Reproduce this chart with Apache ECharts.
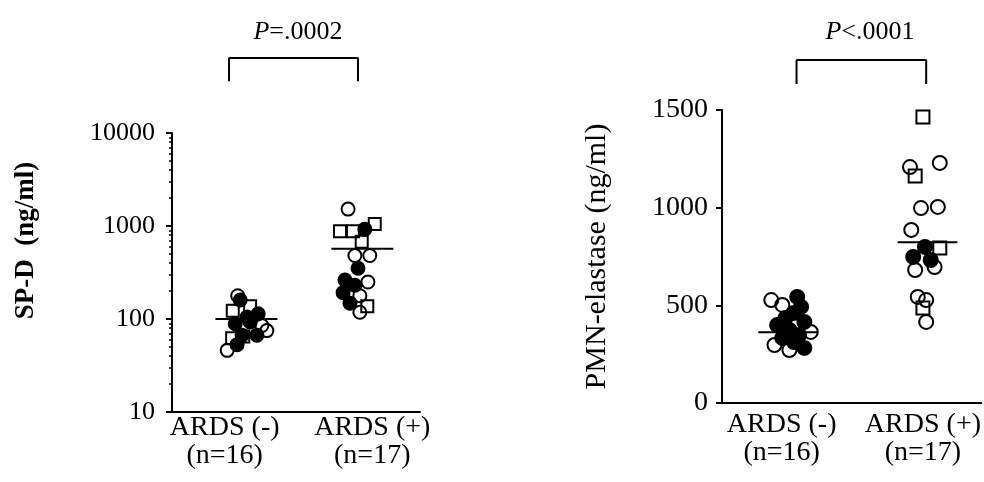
<!DOCTYPE html>
<html>
<head>
<meta charset="utf-8">
<script src="https://cdn.jsdelivr.net/npm/echarts@6/dist/echarts.min.js"></script>
<style>
  html, body { margin: 0; padding: 0; background: #fff; }
  #main { width: 984px; height: 482px; }
</style>
</head>
<body>
<div id="main"></div>
<script>
// categories and p values
const groupNames = ['ARDS (-)', 'ARDS (+)'];
const groupCounts = ['(n=16)', '(n=17)'];
const pTexts = ['=.0002', '<.0001'];

// SP-D (ng/ml), [jitter x, value]
const spdNegOpenCircles = [[1.06, 178], [0.89, 46], [1.45, 85], [1.53, 75]];
const spdNegOpenSquares = [[0.98, 123], [1.26, 137], [1.15, 65], [0.97, 62]];
const spdNegFilled = [[1.21, 105], [1.39, 114], [1.02, 89], [1.13, 67], [1.05, 53], [1.26, 93], [1.10, 160], [1.37, 67]];
const spdPosOpenCircles = [[2.84, 1520], [2.95, 481], [3.19, 481], [3.16, 250], [3.03, 178], [3.03, 118]];
const spdPosOpenSquares = [[2.71, 877], [2.92, 880], [3.27, 1050], [3.06, 675], [3.15, 137]];
const spdPosFilled = [[3.11, 925], [3.00, 351], [2.79, 263], [2.95, 231], [2.76, 192], [2.87, 148]];
const spdMeans = [100, 570];
const spdTicks = [10, 100, 1000, 10000];

// PMN-elastase (ng/ml), [jitter x, value]
const elaNegOpenCircles = [[0.76, 527], [0.93, 502], [1.37, 364], [1.04, 271], [0.81, 297]];
const elaNegFilled = [[1.16, 543], [1.22, 492], [1.11, 461], [1.27, 415], [0.98, 435], [0.85, 399], [1.04, 374], [1.19, 348], [0.93, 333], [1.11, 312], [1.27, 282]];
const elaPosOpenCircles = [[2.90, 1208], [3.36, 1229], [3.07, 998], [3.33, 1004], [2.92, 886], [2.98, 681], [3.28, 696], [3.02, 543], [3.15, 527], [3.15, 415]];
const elaPosOpenSquares = [[3.10, 1464], [2.98, 1162], [3.36, 794], [3.10, 486]];
const elaPosFilled = [[3.13, 799], [3.22, 732], [2.95, 748]];
const elaMeans = [362, 823];

// where things sit along the x value axes
const spdCenters = [1.2, 3.07];
const elaCenters = [1.02, 3.17];
const spdLabelX = [0.85, 3.23];
const elaLabelX = [0.92, 3.10];
const spdBracket = { x: [0.92, 3.0], top: 64000, foot: 36000 };
const elaBracket = { x: [1.15, 3.15], top: 1756, foot: 1633 };

const FONT = "'Liberation Serif', 'DejaVu Serif', serif";

let scatter = (data, idx, symbol, filled, size) => ({
  type: 'scatter',
  xAxisIndex: idx,
  yAxisIndex: idx,
  data: data,
  symbol: symbol,
  symbolSize: size,
  silent: true,
  itemStyle: {
    color: filled ? '#000' : 'rgba(0,0,0,0)',
    borderColor: '#000',
    borderWidth: 2,
    opacity: 1,
  },
});

let line = (data, idx) => ({
  type: 'line',
  xAxisIndex: idx,
  yAxisIndex: idx,
  data: data,
  symbol: 'none',
  clip: false,
  silent: true,
  lineStyle: { color: '#000', width: 2 },
});

let meanLines = (centers, means, half, idx) =>
  centers.map((c, i) => line([[c - half, means[i]], [c + half, means[i]]], idx));

let bracket = (b, idx) =>
  line([[b.x[0], b.foot], [b.x[0], b.top], [b.x[1], b.top], [b.x[1], b.foot]], idx);

let xLabels = (positions) => ({
  customValues: positions,
  interval: 0,
  color: '#000',
  fontFamily: FONT,
  fontSize: 28,
  lineHeight: 28,
  formatter: (v) => {
    let i = positions.indexOf(v);
    return i < 0 ? '' : groupNames[i] + '\n' + groupCounts[i];
  },
});

let myChart = echarts.init(document.getElementById('main'));
myChart.setOption({
  animation: false,
  backgroundColor: '#fff',
  title: [0, 1].map((i) => ({
    text: '{i|P}' + pTexts[i],
    left: i === 0 ? 293 : 865,
    top: 14,
    textAlign: 'center',
    textStyle: {
      color: '#000',
      fontFamily: FONT,
      fontSize: 26,
      fontWeight: 'normal',
      rich: {
        i: { fontStyle: 'italic', fontFamily: FONT, fontSize: 26, color: '#000' },
      },
    },
  })),
  grid: [
    { left: 172, top: 133, width: 248, height: 279 },
    { left: 722, top: 110, width: 262, height: 293 },
  ],
  xAxis: [
    {
      gridIndex: 0,
      type: 'value',
      min: 0,
      max: 4,
      axisLine: { lineStyle: { color: '#000', width: 2 } },
      axisTick: { show: false },
      splitLine: { show: false },
      axisLabel: Object.assign(xLabels(spdLabelX), { margin: 2 }),
    },
    {
      gridIndex: 1,
      type: 'value',
      min: 0,
      max: 4,
      axisLine: { lineStyle: { color: '#000', width: 2 } },
      axisTick: { show: false },
      splitLine: { show: false },
      axisLabel: Object.assign(xLabels(elaLabelX), { margin: 8 }),
    },
  ],
  yAxis: [
    {
      gridIndex: 0,
      type: 'log',
      logBase: 10,
      min: spdTicks[0],
      max: spdTicks[spdTicks.length - 1],
      name: 'SP-D  (ng/ml)',
      nameLocation: 'middle',
      nameGap: 132,
      nameTextStyle: {
        color: '#000',
        fontFamily: FONT,
        fontSize: 27,
        fontWeight: 'bold',
        padding: [0, 0, 0, 64],
      },
      axisLine: { lineStyle: { color: '#000', width: 2 } },
      axisTick: { length: 6, lineStyle: { color: '#000', width: 2 } },
      minorTick: { show: true, splitNumber: 9, length: 3, lineStyle: { color: '#000', width: 1.5 } },
      splitLine: { show: false },
      axisLabel: {
        color: '#000',
        fontFamily: FONT,
        fontSize: 26,
        margin: 17,
        formatter: (v) => String(Math.round(v)),
      },
    },
    {
      gridIndex: 1,
      type: 'value',
      min: 0,
      max: 1500,
      interval: 500,
      name: 'PMN-elastase (ng/ml)',
      nameLocation: 'middle',
      nameGap: 110,
      nameTextStyle: { color: '#000', fontFamily: FONT, fontSize: 30 },
      axisLine: { lineStyle: { color: '#000', width: 2 } },
      axisTick: { length: 6, lineStyle: { color: '#000', width: 2 } },
      splitLine: { show: false },
      axisLabel: {
        color: '#000',
        fontFamily: FONT,
        fontSize: 28,
        margin: 14,
        formatter: (v) => String(v),
      },
    },
  ],
  series: [
    scatter(spdNegOpenCircles, 0, 'circle', false, 13),
    scatter(spdNegOpenSquares, 0, 'rect', false, 12),
    scatter(spdNegFilled, 0, 'circle', true, 13),
    scatter(spdPosOpenCircles, 0, 'circle', false, 13),
    scatter(spdPosOpenSquares, 0, 'rect', false, 12),
    scatter(spdPosFilled, 0, 'circle', true, 13),
    ...meanLines(spdCenters, spdMeans, 0.5, 0),
    bracket(spdBracket, 0),
    scatter(elaNegOpenCircles, 1, 'circle', false, 14),
    scatter(elaNegFilled, 1, 'circle', true, 14),
    scatter(elaPosOpenCircles, 1, 'circle', false, 14),
    scatter(elaPosOpenSquares, 1, 'rect', false, 13),
    scatter(elaPosFilled, 1, 'circle', true, 14),
    ...meanLines(elaCenters, elaMeans, 0.46, 1),
    bracket(elaBracket, 1),
  ],
});
window.addEventListener('resize', function () {
  myChart.resize();
});
</script>
</body>
</html>
